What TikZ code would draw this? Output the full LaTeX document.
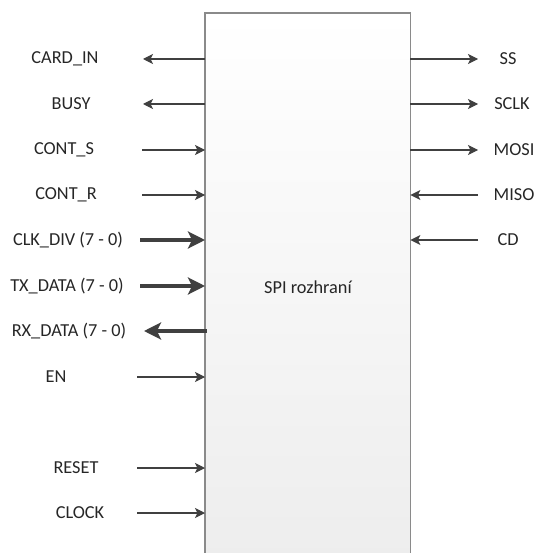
\documentclass[tikz,border=0pt]{standalone}
\usepackage{fontspec}
\setmainfont{Carlito}
\usetikzlibrary{arrows.meta}
\definecolor{linec}{HTML}{404040}
\definecolor{boxc}{HTML}{8A8A8A}
\definecolor{txtc}{HTML}{262626}
\begin{document}
\begin{tikzpicture}[x=1pt,y=-1pt,
  lbl/.style={font=\fontsize{18.3}{21}\selectfont,text=txtc,inner sep=0pt},
  thin/.style={draw=linec,line width=1.1pt,-{Stealth[length=10pt,width=10pt,inset=2.5pt]}},
  thick/.style={draw=linec,line width=4.5pt,-{Stealth[length=17pt,width=17pt,inset=4pt]}},
  outline/.style={draw=boxc,line width=1.6pt}]
\useasboundingbox (0,0) rectangle (535,553);
% box
\node[inner sep=0pt,minimum width=205pt,minimum height=545pt,anchor=north west,
      top color=white,bottom color=black!7] (spi) at (205,13) {};
\draw[outline] (spi.south west) -- (spi.north west) -- (spi.north east) -- (spi.south east);
\node[lbl] (title) at (308,287) {SPI rozhraní};
% left labels
\node[lbl] (cardin) at (65,59) {CARD\_IN};
\node[lbl] (busy)   at (71,104) {BUSY};
\node[lbl] (conts)  at (64,150) {CONT\_S};
\node[lbl] (contr)  at (66,195) {CONT\_R};
\node[lbl] (clkdiv) at (68,240) {CLK\_DIV (7 - 0)};
\node[lbl] (txdata) at (67,286) {TX\_DATA (7 - 0)};
\node[lbl] (rxdata) at (69,331) {RX\_DATA (7 - 0)};
\node[lbl] (en)     at (56,377) {EN};
\node[lbl] (reset)  at (76,468) {RESET};
\node[lbl] (clock)  at (80,513) {CLOCK};
% right labels
\node[lbl] (ss)   at (508,59) {SS};
\node[lbl] (sclk) at (512,104) {SCLK};
\node[lbl] (mosi) at (514,150) {MOSI};
\node[lbl] (miso) at (514,195) {MISO};
\node[lbl] (cd)   at (508,240) {CD};
% arrow free ends
\coordinate (aCardin) at (143,59);
\coordinate (aBusy)   at (143,104);
\coordinate (aConts)  at (142,150);
\coordinate (aContr)  at (142,195);
\coordinate (aClkdiv) at (140,240);
\coordinate (aTxdata) at (140,286);
\coordinate (aRxdata) at (144,331);
\coordinate (aEn)     at (137,377);
\coordinate (aReset)  at (137,468);
\coordinate (aClock)  at (137,513);
\coordinate (aSs)   at (478,59);
\coordinate (aSclk) at (478,104);
\coordinate (aMosi) at (478,150);
\coordinate (aMiso) at (478,195);
\coordinate (aCd)   at (478,240);
% connectors
\draw[thin] (spi.west |- aCardin) -- (aCardin);
\draw[thin] (spi.west |- aBusy) -- (aBusy);
\draw[thin] (aConts) -- (spi.west |- aConts);
\draw[thin] (aContr) -- (spi.west |- aContr);
\draw[thick] (aClkdiv) -- (spi.west |- aClkdiv);
\draw[thick] (aTxdata) -- (spi.west |- aTxdata);
\draw[thick] ([xshift=2pt]spi.west |- aRxdata) -- (aRxdata);
\draw[thin] (aEn) -- (spi.west |- aEn);
\draw[thin] (aReset) -- (spi.west |- aReset);
\draw[thin] (aClock) -- (spi.west |- aClock);
\draw[thin] (spi.east |- aSs) -- (aSs);
\draw[thin] (spi.east |- aSclk) -- (aSclk);
\draw[thin] (spi.east |- aMosi) -- (aMosi);
\draw[thin] (aMiso) -- (spi.east |- aMiso);
\draw[thin] (aCd) -- (spi.east |- aCd);
\end{tikzpicture}
\end{document}
